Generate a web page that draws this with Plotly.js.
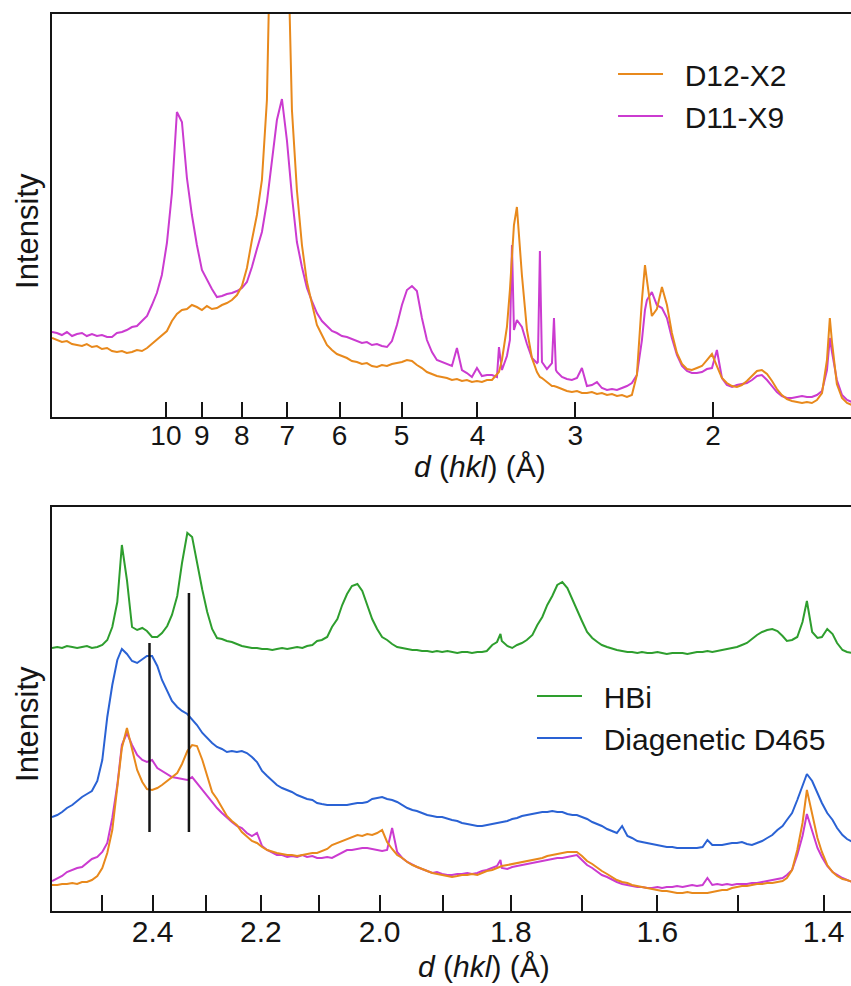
<!DOCTYPE html>
<html>
<head>
<meta charset="utf-8">
<script src="https://cdn.plot.ly/plotly-3.0.1.min.js"></script>
<style>
html,body{margin:0;padding:0;overflow:hidden;background:#fff;}
#chart{width:856px;height:986px;}
</style>
</head>
<body>
<div id="chart"></div>
<script>
// ---------- Top panel: d-spacing grid (Å) and intensities (arbitrary units) ----------
const dTop = [
13.98,13.78,13.58,13.38,13.18,12.99,12.80,12.62,12.43,12.25,
12.07,11.89,11.72,11.55,11.38,11.22,11.05,10.89,10.73,10.57,
10.42,10.27,10.12,9.971,9.825,9.682,9.540,9.401,9.264,9.129,
8.995,8.864,8.735,8.607,8.481,8.358,8.236,8.115,7.997,7.880,
7.765,7.652,7.540,7.430,7.322,7.215,7.109,7.006,6.903,6.803,
6.703,6.605,6.509,6.414,6.320,6.228,6.137,6.048,5.959,5.872,
5.787,5.702,5.619,5.537,5.456,5.376,5.298,5.220,5.144,5.069,
4.995,4.922,4.850,4.780,4.710,4.641,4.573,4.507,4.441,4.376,
4.312,4.249,4.187,4.126,4.066,4.006,3.948,3.890,3.833,3.777,
3.755,3.722,3.668,3.636,3.614,3.593,3.562,3.510,3.458,3.408,
3.358,3.349,3.329,3.309,3.261,3.213,3.194,3.176,3.166,3.120,
3.075,3.030,2.985,2.942,2.899,2.857,2.815,2.774,2.733,2.693,
2.654,2.615,2.577,2.540,2.503,2.466,2.444,2.430,2.395,2.360,
2.325,2.291,2.258,2.225,2.192,2.160,2.129,2.098,2.067,2.037,
2.007,1.978,1.949,1.921,1.892,1.865,1.838,1.811,1.784,1.758,
1.733,1.707,1.682,1.658,1.634,1.610,1.586,1.563,1.540,1.518,
1.496,1.474,1.452,1.431,1.419,1.410,1.390,1.369,1.349,1.330
];
const topD12X2 = [
79,77,75,76,73,72,71,73,70,71,
68,69,66,65,66,64,65,67,66,69,
73,78,82,86,96,103,107,108,112,110,
107,111,108,109,112,114,117,122,131,149,
177,202,237,317,560,700,680,520,307,227,
172,135,112,92,82,72,67,63,61,59,
56,55,53,54,51,50,52,51,53,54,
55,57,56,52,49,45,43,41,40,39,
37,38,36,37,35,36,35,37,37,42,
45,57,90,127,162,192,210,142,87,59,
45,43,40,39,35,31,31,30,30,28,
26,25,26,24,24,25,23,24,22,23,
21,22,20,22,42,117,152,137,101,108,
130,112,84,64,53,48,47,49,51,57,
63,51,39,34,31,30,32,36,41,46,
47,43,36,28,22,18,16,15,14,15,
14,17,24,57,99,75,33,19,14,12
];
const topD11X9 = [
85,84,82,85,81,83,84,81,83,81,
82,80,80,84,85,87,90,91,96,101,
112,124,142,174,224,305,295,239,202,172,
147,137,128,120,121,123,124,126,129,135,
150,168,185,215,257,297,318,277,221,175,
150,129,116,104,96,91,86,84,81,80,
78,76,74,75,72,73,71,70,76,92,
112,127,131,126,99,77,65,57,55,53,
51,69,47,44,40,49,41,42,42,40,
70,47,61,77,172,87,97,90,73,59,
54,55,166,55,48,54,99,47,45,40,
38,37,39,49,31,32,35,29,27,28,
27,29,31,34,42,77,107,117,125,112,
109,99,79,62,51,46,44,44,45,48,
49,67,39,32,30,32,33,34,37,41,
42,37,31,25,21,19,19,20,21,20,
20,22,26,47,79,65,37,22,17,15
];

// ---------- Bottom panel ----------
const dBottom = [
2.602,2.591,2.581,2.571,2.560,2.550,2.540,2.530,2.520,2.509,
2.499,2.489,2.479,2.469,2.460,2.450,2.440,2.430,2.420,2.411,
2.401,2.391,2.382,2.372,2.363,2.353,2.344,2.334,2.325,2.316,
2.306,2.297,2.288,2.279,2.270,2.261,2.252,2.243,2.234,2.225,
2.216,2.207,2.198,2.189,2.180,2.172,2.163,2.154,2.146,2.137,
2.128,2.120,2.111,2.103,2.095,2.086,2.078,2.069,2.061,2.053,
2.045,2.036,2.028,2.020,2.012,2.004,1.996,1.988,1.980,1.972,
1.964,1.956,1.948,1.941,1.933,1.925,1.917,1.910,1.902,1.894,
1.887,1.879,1.872,1.864,1.857,1.849,1.842,1.835,1.827,1.820,
1.815,1.813,1.805,1.798,1.791,1.784,1.777,1.769,1.762,1.755,
1.748,1.741,1.734,1.727,1.720,1.713,1.707,1.700,1.693,1.686,
1.679,1.673,1.666,1.659,1.653,1.646,1.639,1.633,1.626,1.620,
1.613,1.607,1.600,1.594,1.588,1.581,1.575,1.568,1.562,1.556,
1.550,1.543,1.537,1.531,1.525,1.519,1.513,1.507,1.501,1.495,
1.489,1.483,1.477,1.471,1.465,1.459,1.453,1.447,1.442,1.436,
1.430,1.424,1.419,1.413,1.407,1.402,1.396,1.390,1.385,1.379,
1.374,1.368
];
const hbi = [
263,264,263,265,264,263,264,265,263,264,
266,271,284,309,366,331,284,281,283,280,
274,274,278,285,296,315,348,378,374,348,
321,299,282,273,272,270,269,267,265,264,
263,263,262,262,261,262,263,262,263,264,
263,265,266,270,271,274,284,292,306,317,
325,327,320,307,292,282,274,271,267,264,
263,262,261,261,260,260,259,260,259,260,
259,258,259,259,258,259,259,260,266,269,
277,270,265,263,266,268,271,276,286,294,
306,315,326,329,323,311,302,290,279,273,
269,266,264,262,261,260,259,259,258,259,
258,258,259,258,257,258,258,258,257,258,
259,259,260,259,260,261,262,263,264,266,
268,272,276,279,281,282,280,275,270,271,
274,289,310,279,273,274,282,277,268,261,
259,258
];
const diageneticD465 = [
94,96,99,103,106,110,114,117,120,130,
151,194,226,251,262,257,250,248,252,255,
255,245,231,219,210,204,200,197,191,186,
178,173,168,164,162,159,160,159,160,158,
154,149,140,135,130,126,123,121,119,116,
114,112,111,108,107,106,106,106,106,106,
107,108,108,109,112,113,114,112,111,109,
106,103,101,100,98,96,95,94,94,92,
91,90,88,87,86,85,85,86,87,88,
89,89,90,92,93,95,96,97,98,99,
99,100,99,99,97,96,96,94,92,89,
87,85,82,80,78,85,75,73,70,69,
68,67,66,65,64,64,63,63,63,63,
63,64,71,66,66,66,67,68,68,69,
67,66,68,70,73,76,81,85,91,98,
111,125,137,130,118,108,98,91,83,76,
72,69
];
const bottomD12X2 = [
26,26,27,27,28,27,29,29,31,35,
43,58,81,121,163,183,161,141,129,122,
121,123,126,130,134,138,147,160,166,165,
151,135,119,112,103,95,90,86,79,74,
70,68,64,61,59,58,57,56,56,55,
56,57,58,58,60,62,66,68,70,72,
74,76,75,77,76,78,81,69,62,56,
53,49,46,44,42,40,38,37,36,35,
34,35,36,36,37,36,38,40,41,43,
44,45,46,47,48,49,50,51,52,53,
55,56,57,58,59,59,59,55,50,47,
43,40,37,34,31,29,28,26,25,24,
23,22,21,20,20,19,18,18,19,18,
18,18,18,19,20,21,21,23,24,25,
25,26,27,27,28,28,29,30,33,41,
61,88,121,98,73,59,46,39,35,32,
31,29
];
const bottomD11X9 = [
30,33,35,39,41,43,44,48,52,54,
59,68,93,126,166,178,166,156,151,149,
151,143,140,137,134,133,132,131,134,128,
121,115,108,103,98,93,89,85,83,78,
75,78,65,61,58,56,56,54,55,54,
56,54,55,53,53,54,53,56,58,61,
61,62,63,63,62,61,60,61,83,59,
53,49,46,44,42,40,38,39,37,36,
36,37,37,38,37,38,40,41,43,45,
51,43,42,44,45,46,47,48,49,50,
51,52,53,53,54,55,56,51,46,43,
39,36,34,31,29,27,26,25,24,24,
23,23,24,23,24,24,25,24,25,26,
25,26,33,26,27,26,27,26,27,27,
27,28,28,29,30,31,32,33,36,41,
56,75,97,79,63,54,45,39,36,33,
31,29
];

// reference lines (d in Å, intensity extent)
const markerD = [2.406, 2.331];
const markerTop = [268, 318];
const markerBottom = [79, 79];

// ticks
const topTickVals = [10, 9, 8, 7, 6, 5, 4, 3, 2];
const topTickText = ['10', '9', '8', '7', '6', '5', '4', '3', '2'];
const bottomTickVals = [2.5, 2.4, 2.3, 2.2, 2.1, 2.0, 1.9, 1.8, 1.7, 1.6, 1.5, 1.4];
const bottomTickText = ['', '2.4', '', '2.2', '', '2.0', '', '1.8', '', '1.6', '', '1.4'];

const C_ORANGE = '#E8891C', C_MAGENTA = '#CB3BD0', C_GREEN = '#2E9E2E', C_BLUE = '#2A62D4';
const FONT = 'Liberation Sans, Arial, Helvetica, sans-serif';
const INK = '#151515';
const PAD = '\u00a0\u00a0';

const traces = [
  {x: dTop, y: topD11X9, xaxis: 'x', yaxis: 'y', type: 'scatter', mode: 'lines', name: PAD + 'D11-X9',
   line: {color: C_MAGENTA, width: 2}, legend: 'legend', legendrank: 2},
  {x: dTop, y: topD12X2, xaxis: 'x', yaxis: 'y', type: 'scatter', mode: 'lines', name: PAD + 'D12-X2',
   line: {color: C_ORANGE, width: 2}, legend: 'legend', legendrank: 1},
  {x: dBottom, y: hbi, xaxis: 'x2', yaxis: 'y2', type: 'scatter', mode: 'lines', name: PAD + 'HBi',
   line: {color: C_GREEN, width: 2}, legend: 'legend2', legendrank: 1},
  {x: dBottom, y: diageneticD465, xaxis: 'x2', yaxis: 'y2', type: 'scatter', mode: 'lines', name: PAD + 'Diagenetic D465',
   line: {color: C_BLUE, width: 2}, legend: 'legend2', legendrank: 2},
  {x: dBottom, y: bottomD11X9, xaxis: 'x2', yaxis: 'y2', type: 'scatter', mode: 'lines', name: 'D11-X9',
   line: {color: C_MAGENTA, width: 2}, showlegend: false},
  {x: dBottom, y: bottomD12X2, xaxis: 'x2', yaxis: 'y2', type: 'scatter', mode: 'lines', name: 'D12-X2',
   line: {color: C_ORANGE, width: 2}, showlegend: false}
];
markerD.forEach((d, i) => {
  traces.push({x: [d, d], y: [markerBottom[i], markerTop[i]], xaxis: 'x2', yaxis: 'y2', type: 'scatter',
    mode: 'lines', line: {color: INK, width: 2.5}, showlegend: false, hoverinfo: 'skip'});
});

const xCommon = {
  type: 'log', autorange: false, showgrid: false, zeroline: false,
  showline: true, mirror: true, linewidth: 2, linecolor: INK,
  ticks: 'inside', tickwidth: 2, tickcolor: INK, fixedrange: true
};
const yCommon = {
  showgrid: false, zeroline: false, showline: true, mirror: true, linewidth: 2, linecolor: INK,
  ticks: '', showticklabels: false, fixedrange: true
};

const layout = {
  width: 856, height: 986,
  margin: {l: 52, r: 0, t: 14, b: 75},
  paper_bgcolor: '#fff', plot_bgcolor: '#fff',
  font: {family: FONT, color: INK},
  showlegend: true,
  xaxis: Object.assign({}, xCommon, {
    anchor: 'y', domain: [0, 1], range: [1.14551, 0.11856],
    tickvals: topTickVals, ticktext: topTickText, ticklen: 15, ticklabelstandoff: -8,
    tickfont: {size: 28, family: FONT, color: INK}
  }),
  yaxis: Object.assign({}, yCommon, {anchor: 'x', domain: [0.5507, 1], range: [0, 403]}),
  xaxis2: Object.assign({}, xCommon, {
    anchor: 'y2', domain: [0, 1], range: [0.415307, 0.13485],
    tickvals: bottomTickVals, ticktext: bottomTickText, ticklen: 16, ticklabelstandoff: -7,
    tickfont: {size: 30, family: FONT, color: INK}
  }),
  yaxis2: Object.assign({}, yCommon, {anchor: 'x2', domain: [0, 0.4504], range: [0, 404]}),
  legend: {x: 0.6978, y: 0.9621, xanchor: 'left', yanchor: 'top', bgcolor: 'rgba(0,0,0,0)',
    font: {size: 30, family: FONT, color: INK}, itemwidth: 45, traceorder: 'normal'},
  legend2: {x: 0.597, y: 0.2687, xanchor: 'left', yanchor: 'top', bgcolor: 'rgba(0,0,0,0)',
    font: {size: 30, family: FONT, color: INK}, itemwidth: 45, traceorder: 'normal'},
  annotations: [
    {text: 'Intensity', textangle: -90, xref: 'paper', yref: 'paper', x: -0.0299, y: 0.7581,
     xanchor: 'center', yanchor: 'middle', showarrow: false, font: {size: 31, family: FONT, color: INK}},
    {text: 'Intensity', textangle: -90, xref: 'paper', yref: 'paper', x: -0.0299, y: 0.2085,
     xanchor: 'center', yanchor: 'middle', showarrow: false, font: {size: 31, family: FONT, color: INK}},
    {text: '<i>d</i> (<i>hkl</i>) (Å)', xref: 'paper', yref: 'paper', x: 0.5323, y: 0.4950,
     xanchor: 'center', yanchor: 'middle', showarrow: false, font: {size: 30, family: FONT, color: INK}},
    {text: '<i>d</i> (<i>hkl</i>) (Å)', xref: 'paper', yref: 'paper', x: 0.5373, y: -0.0624,
     xanchor: 'center', yanchor: 'middle', showarrow: false, font: {size: 30, family: FONT, color: INK}}
  ]
};

Plotly.newPlot('chart', traces, layout, {displayModeBar: false, staticPlot: true});
</script>
</body>
</html>
